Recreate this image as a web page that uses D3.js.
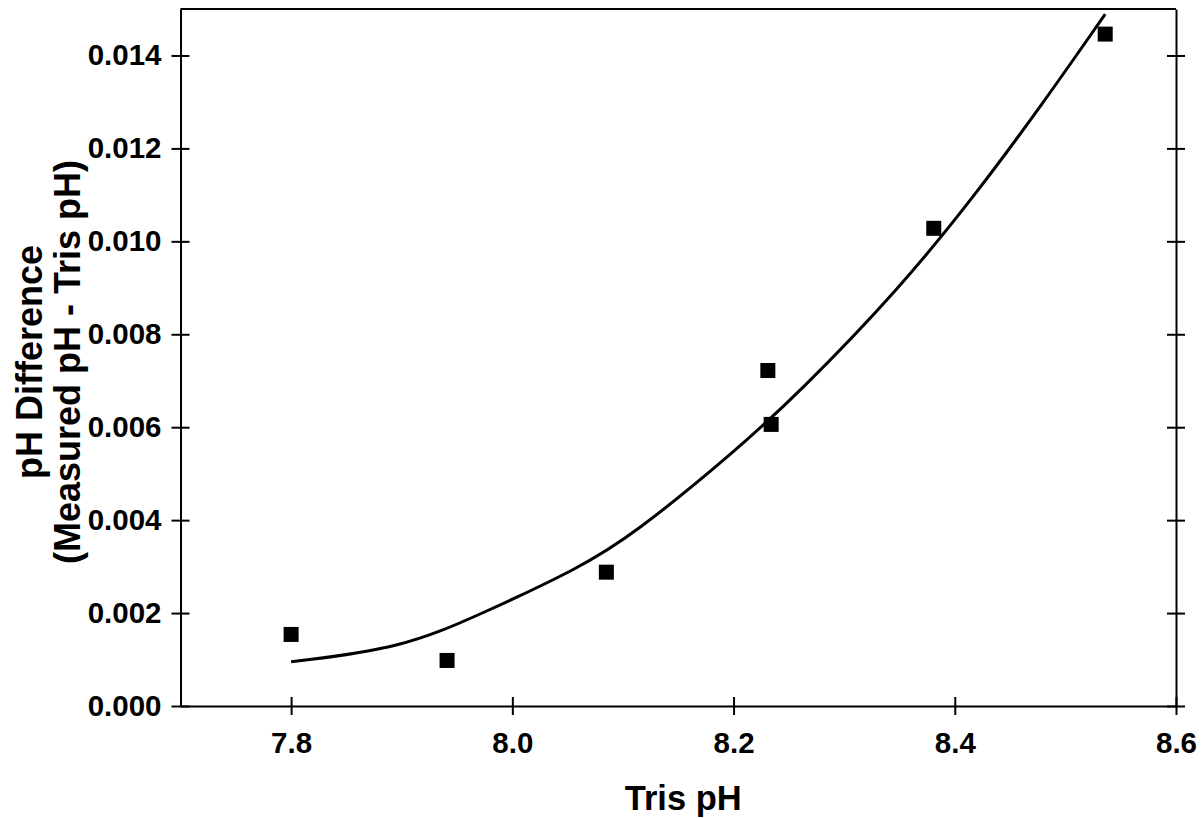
<!DOCTYPE html>
<html>
<head>
<meta charset="utf-8">
<script src="https://cdn.jsdelivr.net/npm/d3@7"></script>
<style>
  body { margin: 0; background: #fff; }
  svg { display: block; }
  text { font-family: "Liberation Sans", Arial, sans-serif; font-weight: bold; fill: #000; }
  .axis path, .axis line { stroke: #000; stroke-width: 2; }
  .axis text { font-size: 29.5px; }
</style>
</head>
<body>
<div id="chart"></div>
<script>
// measured points
var trisPH = [7.800, 7.941, 8.085, 8.231, 8.234, 8.381, 8.536]
var phDiff = [0.00154, 0.00098, 0.00288, 0.00722, 0.00606, 0.01028, 0.01446]

// fitted curve
var fitX = [7.80, 7.90, 7.97, 8.06, 8.11, 8.20, 8.26, 8.35, 8.42, 8.48, 8.536]
var fitY = [0.00095, 0.00124, 0.00196, 0.00296, 0.00370, 0.00545, 0.00676, 0.00898, 0.01104, 0.01298, 0.01489]

var xTicks = [7.8, 8.0, 8.2, 8.4, 8.6]
var yTicks = [0.000, 0.002, 0.004, 0.006, 0.008, 0.010, 0.012, 0.014]

var W = 1204, H = 818
var margin = { top: 9, right: 28, bottom: 112, left: 180.5 }
var w = W - margin.left - margin.right
var h = H - margin.top - margin.bottom

var svg = d3.select('#chart').append('svg')
  .attr('width', W)
  .attr('height', H)

var g = svg.append('g')
  .attr('transform', 'translate(' + margin.left + ',' + margin.top + ')')

var x = d3.scaleLinear().domain([7.7, 8.6]).range([0, w])
var y = d3.scaleLinear().domain([0, 0.015]).range([h, 0])

// ticks cross the axis line: 9px each side
function crossTicks (sel, horiz) {
  sel.selectAll('.tick line').attr(horiz ? 'x1' : 'y1', 9).attr(horiz ? 'x2' : 'y2', -9)
}

var yAxis = g.append('g').attr('class', 'axis')
  .call(d3.axisLeft(y).tickValues(yTicks).tickFormat(d3.format('.3f')).tickSizeInner(9).tickSizeOuter(0).tickPadding(10))
crossTicks(yAxis, true)

var yAxisR = g.append('g').attr('class', 'axis')
  .attr('transform', 'translate(' + w + ',0)')
  .call(d3.axisRight(y).tickValues(yTicks).tickFormat('').tickSizeInner(9).tickSizeOuter(0))
crossTicks(yAxisR, true)

var xAxis = g.append('g').attr('class', 'axis')
  .attr('transform', 'translate(0,' + h + ')')
  .call(d3.axisBottom(x).tickValues(xTicks).tickFormat(d3.format('.1f')).tickSizeInner(9).tickSizeOuter(0).tickPadding(17))
crossTicks(xAxis, false)

// plain top border
g.append('line')
  .attr('x1', 0).attr('x2', w).attr('y1', 0).attr('y2', 0)
  .attr('stroke', '#000').attr('stroke-width', 2)

var fit = fitX.map(function (d, i) { return [d, fitY[i]] })
g.append('path')
  .datum(fit)
  .attr('fill', 'none')
  .attr('stroke', '#000')
  .attr('stroke-width', 3)
  .attr('d', d3.line()
    .x(function (d) { return x(d[0]) })
    .y(function (d) { return y(d[1]) })
    .curve(d3.curveBasis))

var sz = 15
g.append('g').selectAll('rect')
  .data(trisPH)
  .enter().append('rect')
  .attr('x', function (d) { return x(d) - sz / 2 })
  .attr('y', function (d, i) { return y(phDiff[i]) - sz / 2 })
  .attr('width', sz)
  .attr('height', sz)
  .attr('fill', '#000')

svg.append('text')
  .attr('x', margin.left + w / 2 + 5)
  .attr('y', 810)
  .attr('text-anchor', 'middle')
  .style('font-size', '34.5px')
  .text('Tris pH')

var yt = svg.append('text')
  .attr('transform', 'translate(42,362) rotate(-90)')
  .attr('text-anchor', 'middle')
  .style('font-size', '36px')
yt.append('tspan').attr('x', 0).attr('dy', 0).text('pH Difference')
yt.append('tspan').attr('x', 0).attr('dy', 38).text('(Measured pH - Tris pH)')
</script>
</body>
</html>
